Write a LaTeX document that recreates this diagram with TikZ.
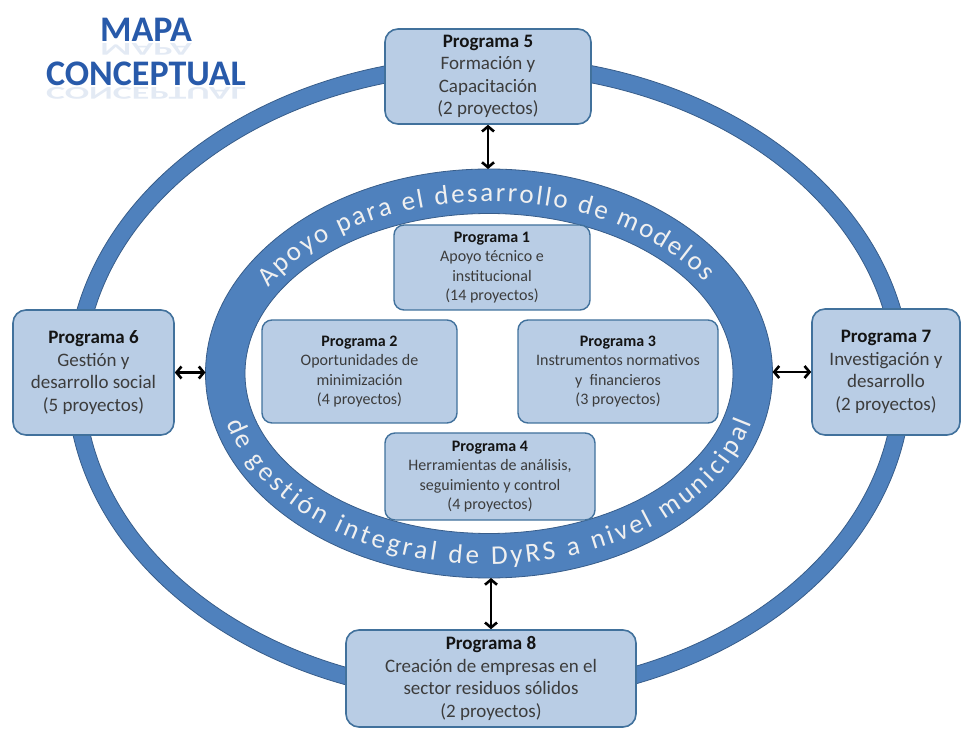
\documentclass[tikz,border=0pt]{standalone}
\usepackage{fontspec}
\setmainfont{Carlito}
\usetikzlibrary{arrows.meta,decorations.text}
\definecolor{ringblue}{HTML}{4F81BD}
\definecolor{ringedge}{HTML}{385D8A}
\definecolor{boxfill}{HTML}{B9CDE5}
\definecolor{boxedge}{HTML}{41719C}
\definecolor{txtgray}{RGB}{60,60,60}
\definecolor{hdrblack}{RGB}{20,20,20}
\definecolor{titleblue}{RGB}{40,90,170}
\definecolor{ringtxt}{RGB}{240,240,240}
\newcommand{\hdr}[1]{\textbf{\color{hdrblack}#1}}
\begin{document}
\begin{tikzpicture}[x=1pt,y=1pt,
  outerbox/.style={draw=boxedge, line width=1.6pt, fill=boxfill, rounded corners=13pt,
    align=center, inner sep=0pt, text=txtgray, font=\fontsize{19}{22.5}\selectfont},
  innerbox/.style={draw=boxedge, line width=1.4pt, fill=boxfill, rounded corners=10pt,
    align=center, inner sep=0pt, text=txtgray, font=\fontsize{16}{19.5}\selectfont},
  link/.style={draw=black, line width=2.6pt,
    {Straight Barb[length=5pt,width=12pt]}-{Straight Barb[length=5pt,width=12pt]}},
  ringband/.style={fill=ringblue, draw=ringedge, line width=0.8pt, even odd rule},
  titletext/.style={anchor=base, text=titleblue, font=\fontsize{36}{36}\selectfont\bfseries},
  titlerefl/.style={anchor=base, text=titleblue, opacity=0.13, yscale=-0.5,
    font=\fontsize{36}{36}\selectfont\bfseries}
]
\useasboundingbox (0,0) rectangle (961,729);

% outer thin ring
\path[ringband] (489,349) ellipse [x radius=422pt, y radius=324pt]
                (489,349) ellipse [x radius=405pt, y radius=307pt];

% inner thick ring
\path[ringband] (489,355.5) ellipse [x radius=283.5pt, y radius=204.5pt]
                (489,355.5) ellipse [x radius=244pt, y radius=160pt];

\coordinate (ringtop) at (489,560);
\coordinate (ringbot) at (489,151);
\coordinate (ringleft) at (205.5,355.5);
\coordinate (ringright) at (772.5,355.5);

% text along ring
\path[decorate, decoration={text along path, text align=fit to path,
   text={|\fontsize{27}{27}\selectfont\color{ringtxt}|Apoyo para el desarrollo de modelos}}]
  ({489+255*cos(150)},{355.5+172*sin(150)}) arc[start angle=150, end angle=32, x radius=255pt, y radius=172pt];
\path[decorate, decoration={text along path, text align=fit to path,
   text={|\fontsize{27}{27}\selectfont\color{ringtxt}|de gestión integral de DyRS a nivel municipal}}]
  ({489+272*cos(195)},{355.5+191*sin(195)}) arc[start angle=195, end angle=345, x radius=272pt, y radius=191pt];

% title
\node[titlerefl] (t1r) at (146,685) {MAPA};
\node[titlerefl] (t2r) at (146,641) {CONCEPTUAL};
\node[titletext] (t1) at (146,687) {MAPA};
\node[titletext] (t2) at (146,643) {CONCEPTUAL};

% outer boxes
\node[outerbox, minimum width=206pt, minimum height=95pt] (p5) at (488,652.5)
  {\hdr{Programa 5}\\Formación y\\Capacitación\\(2 proyectos)};
\node[outerbox, minimum width=161pt, minimum height=125pt] (p6) at (93.5,356.5)
  {\hdr{Programa 6}\\Gestión y\\desarrollo social\\(5 proyectos)};
\node[outerbox, minimum width=148pt, minimum height=126pt] (p7) at (886,357)
  {\hdr{Programa 7}\\Investigación y\\desarrollo\\(2 proyectos)};
\node[outerbox, minimum width=290pt, minimum height=97pt] (p8) at (491,50.5)
  {\hdr{Programa 8}\\Creación de empresas en el\\sector residuos sólidos\\(2 proyectos)};

% inner boxes
\node[innerbox, minimum width=196pt, minimum height=85pt] (p1) at (492,461.5)
  {\hdr{Programa 1}\\Apoyo técnico e\\institucional\\(14 proyectos)};
\node[innerbox, minimum width=195pt, minimum height=103pt] (p2) at (359.5,357.5)
  {\hdr{Programa 2}\\Oportunidades de\\minimización\\(4 proyectos)};
\node[innerbox, minimum width=200pt, minimum height=103pt] (p3) at (618,357.5)
  {\hdr{Programa 3}\\Instrumentos normativos\\y\ \ financieros\\(3 proyectos)};
\node[innerbox, minimum width=210pt, minimum height=87pt] (p4) at (490,252.5)
  {\hdr{Programa 4}\\Herramientas de análisis,\\seguimiento y control\\(4 proyectos)};

% connectors
\draw[link] (p5.south) -- (p5.south |- ringtop);
\draw[link] (p6.east) -- (p6.east -| ringleft);
\draw[link] (p7.west) -- (p7.west -| ringright);
\draw[link] (p8.north) -- (p8.north |- ringbot);
\end{tikzpicture}
\end{document}
